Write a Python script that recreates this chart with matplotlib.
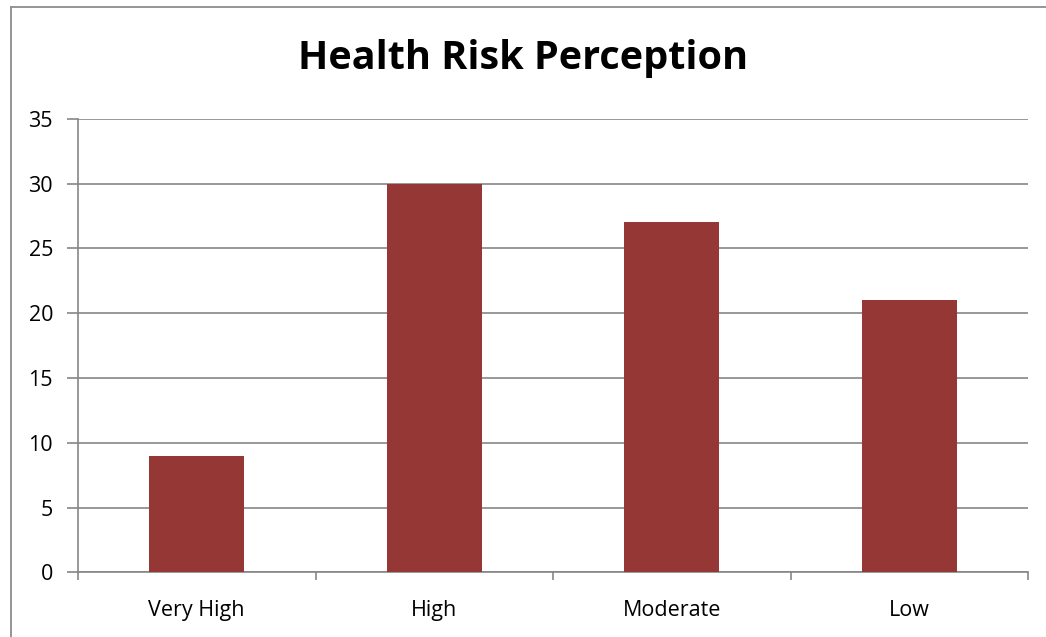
import matplotlib
matplotlib.use("Agg")
import matplotlib.pyplot as plt
from matplotlib.lines import Line2D

categories = ["Very High", "High", "Moderate", "Low"]
values = [9, 30, 27, 21]
yticks = [0, 5, 10, 15, 20, 25, 30, 35]
title = "Health Risk Perception"

W, H = 1046, 637
fig = plt.figure(figsize=(W / 100, H / 100), dpi=100)
fig.patch.set_facecolor("white")
plt.rcParams["font.family"] = ["Open Sans", "DejaVu Sans"]

# outer chart border (left and top visible)
bx, by = 10.5 / W, 1 - 6.5 / H
fig.add_artist(Line2D([bx, bx], [0, by], transform=fig.transFigure,
                      color="#8c8c8c", linewidth=1.3))
fig.add_artist(Line2D([bx, 1], [by, by], transform=fig.transFigure,
                      color="#8c8c8c", linewidth=1.3))

left, right = 78 / W, 1028 / W
bottom, top = (H - 572.3) / H, (H - 118.7) / H
ax = fig.add_axes([left, bottom, right - left, top - bottom])

x = list(range(len(categories)))
ax.bar(x, values, width=0.4, color="#953735", zorder=3)
ax.set_xlim(-0.5, len(categories) - 0.5)
ax.set_ylim(0, 35)
ax.set_yticks(yticks)
ax.set_yticklabels([str(v) for v in yticks], fontsize=15.5)
ax.yaxis.grid(True, color="#868686", linewidth=1.2, zorder=0)
ax.tick_params(axis="y", length=8, width=1.2, color="#868686", pad=10)

ax.set_xticks([i + 0.5 for i in range(-1, len(categories))])
ax.set_xticklabels([])
ax.tick_params(axis="x", length=6, width=1.2, color="#868686")
ax.set_xticks(x, minor=True)
ax.set_xticklabels(categories, minor=True, fontsize=15.5)
ax.tick_params(axis="x", which="minor", length=0, pad=20)

for s in ["top", "right"]:
    ax.spines[s].set_visible(False)
for s in ["left", "bottom"]:
    ax.spines[s].set_color("#868686")
    ax.spines[s].set_linewidth(1.2)

fig.text(0.5, (H - 58) / H, title, ha="center", va="center",
         fontsize=28.5, fontweight="bold")

fig.savefig("out.png", dpi=100, facecolor="white")
